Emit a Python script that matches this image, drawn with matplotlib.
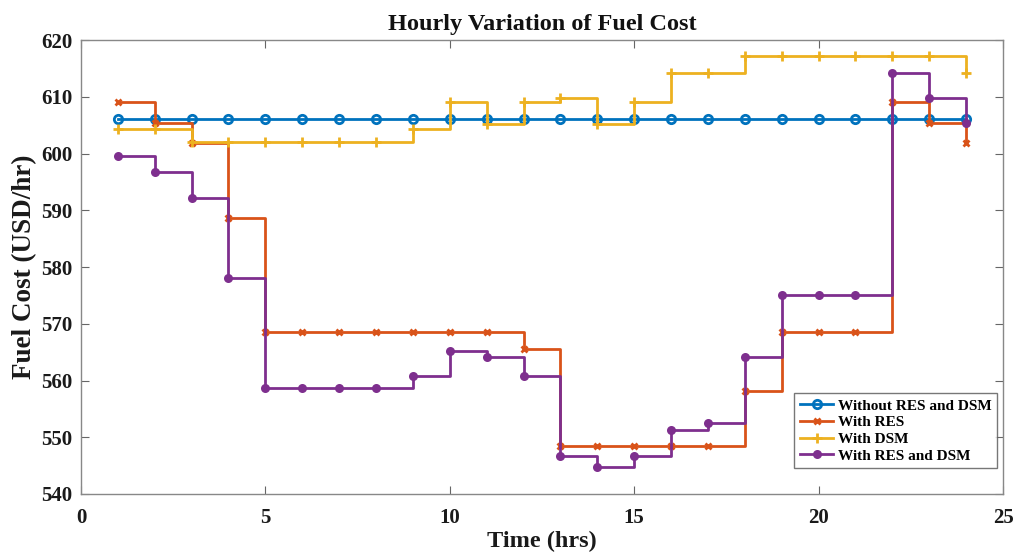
import matplotlib
matplotlib.use("Agg")
import matplotlib.pyplot as plt
import numpy as np

hours = np.arange(1, 25)

without_res_dsm = [606.0] * 24
with_res = [609.1, 605.3, 601.8, 588.6, 568.6, 568.6, 568.6, 568.6, 568.6, 568.6,
            568.6, 565.5, 548.5, 548.5, 548.5, 548.5, 548.5, 558.1, 568.6, 568.6,
            568.6, 609.1, 605.3, 601.8]
with_dsm = [604.3, 604.3, 602.1, 602.1, 602.1, 602.1, 602.1, 602.1, 604.3, 609.0,
            605.2, 609.0, 609.8, 605.2, 609.0, 614.2, 614.2, 617.2, 617.2, 617.2,
            617.2, 617.2, 617.2, 614.2]
with_res_dsm = [599.5, 596.8, 592.2, 578.1, 558.7, 558.7, 558.7, 558.7, 560.8, 565.2,
                564.1, 560.8, 546.7, 544.8, 546.7, 551.3, 552.5, 564.1, 575.0, 575.0,
                575.0, 614.2, 609.8, 605.3]

series_labels = ["Without RES and DSM", "With RES", "With DSM", "With RES and DSM"]
colors = ["#0072BD", "#D95319", "#EDB120", "#7E2F8E"]

plt.rcParams["font.family"] = ["Liberation Serif", "DejaVu Serif"]
plt.rcParams["font.weight"] = "bold"

fig = plt.figure(figsize=(10.30, 5.58), dpi=100)
ax = fig.add_axes([0.0786, 0.1147, 0.8952, 0.8136])

ax.step(hours, without_res_dsm, where="post", color=colors[0], lw=2, marker="o",
        markersize=6, markerfacecolor="none", markeredgewidth=2, label=series_labels[0])
ax.step(hours, with_res, where="post", color=colors[1], lw=2, marker="x",
        markersize=5, markeredgewidth=2, label=series_labels[1])
ax.step(hours, with_dsm, where="post", color=colors[2], lw=2, marker="+",
        markersize=7, markeredgewidth=2, label=series_labels[2])
ax.step(hours, with_res_dsm, where="post", color=colors[3], lw=2, marker="o",
        markersize=6.5, markeredgewidth=0, label=series_labels[3])

ax.set_xlim(0, 25)
ax.set_ylim(540, 620)
ax.set_xticks([0, 5, 10, 15, 20, 25])
ax.set_yticks(np.arange(540, 621, 10))

for s in ax.spines.values():
    s.set_color("#888888")
    s.set_linewidth(1)
ax.tick_params(direction="in", length=6, width=0.8, color="#666666", top=True, right=True,
               labelsize=15, labelcolor="#1a1a1a", pad=6)
ax.tick_params(axis="x", pad=10)
for lab in ax.get_xticklabels() + ax.get_yticklabels():
    lab.set_fontweight("bold")

ax.set_title("Hourly Variation of Fuel Cost", fontsize=17.5, fontweight="bold", color="#111111", pad=7)
ax.set_xlabel("Time (hrs)", fontsize=17.5, fontweight="bold", color="#1a1a1a", labelpad=2)
ax.set_ylabel("Fuel Cost (USD/hr)", fontsize=19.5, fontweight="bold", color="#1a1a1a", labelpad=3)

leg = ax.legend(loc="lower right", bbox_to_anchor=(0.9935, 0.057),
                prop={"weight": "bold", "size": 11}, frameon=True, fancybox=False,
                edgecolor="#555555", borderpad=0.35, labelspacing=0.2, handlelength=2.2,
                handletextpad=0.3, borderaxespad=0)
leg.get_frame().set_linewidth(1)

fig.savefig("out.png", dpi=100)
